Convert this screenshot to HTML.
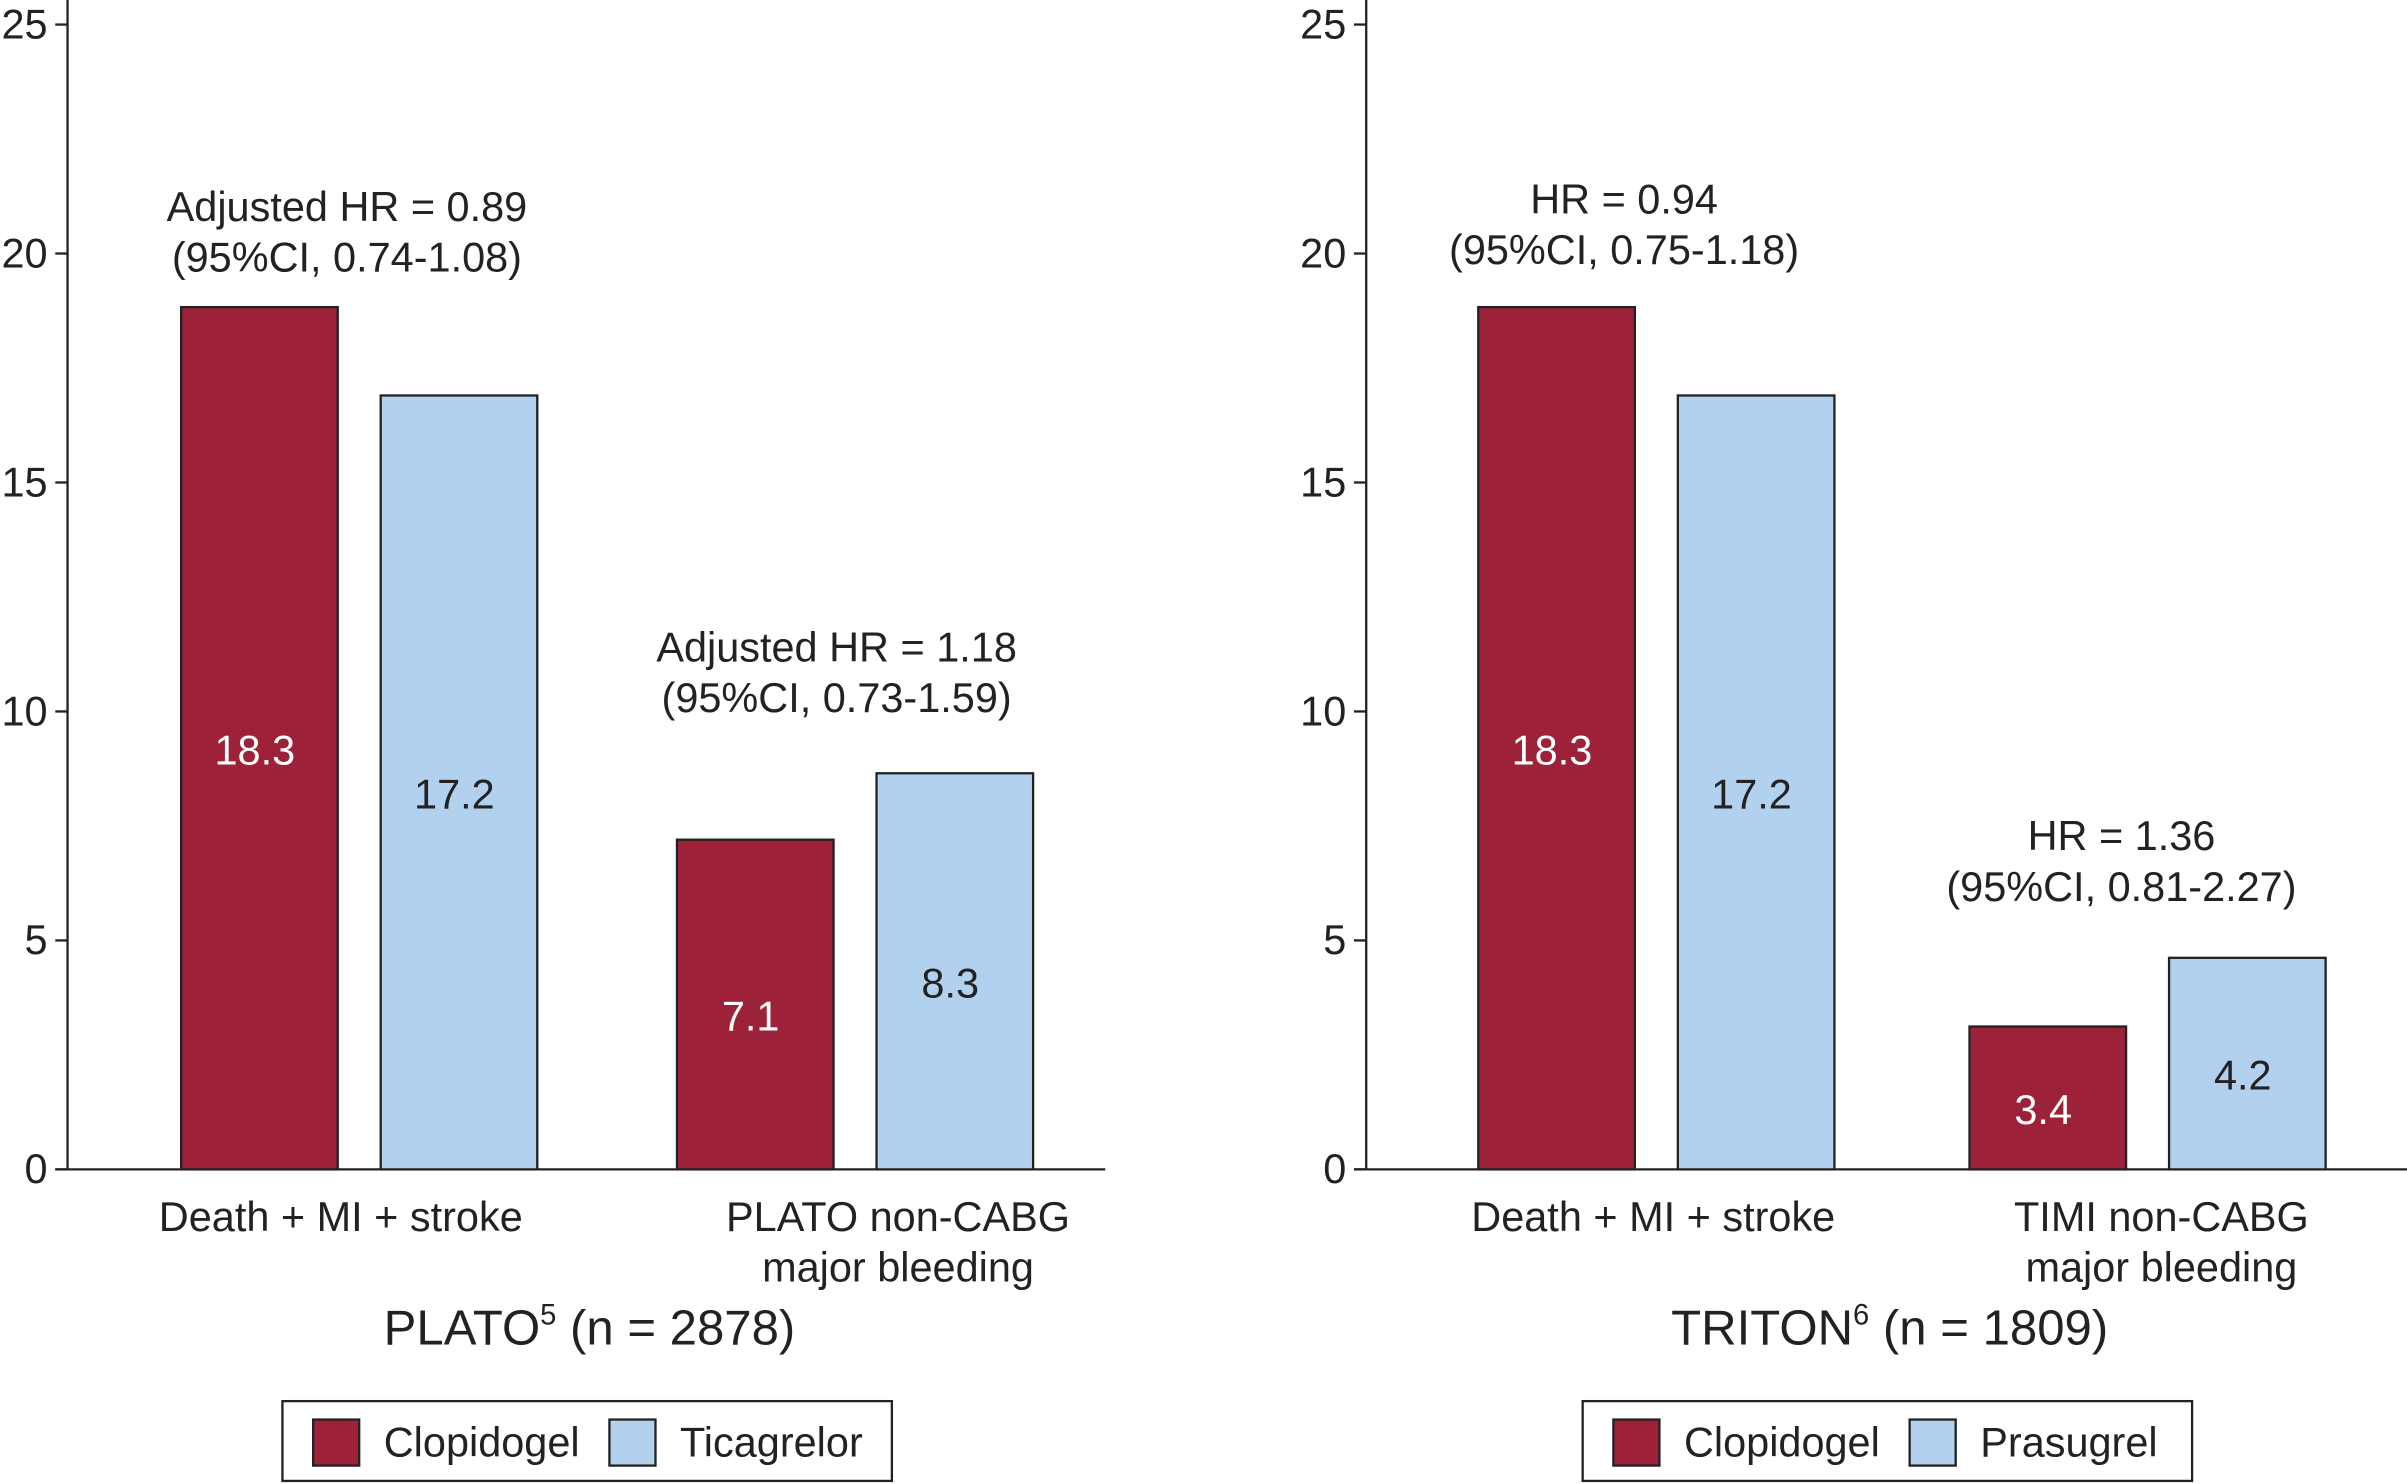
<!DOCTYPE html>
<html><head><meta charset="utf-8"><style>
html,body{margin:0;padding:0;background:#fff;}
svg{display:block;font-family:"Liberation Sans",sans-serif;}
</style></head><body>
<svg id="chart" width="2407" height="1484" viewBox="0 0 1568 967" preserveAspectRatio="none" xmlns="http://www.w3.org/2000/svg"></svg>
<script>
const yTicks = [0, 5, 10, 15, 20, 25];
const panelTitles = ["PLATO", "TRITON"];
const panelSups = ["5", "6"];
const panelNs = ["(n = 2878)", "(n = 1809)"];
const categoriesLeft = [["Death + MI + stroke"], ["PLATO non-CABG", "major bleeding"]];
const categoriesRight = [["Death + MI + stroke"], ["TIMI non-CABG", "major bleeding"]];
const seriesNamesLeft = ["Clopidogel", "Ticagrelor"];
const seriesNamesRight = ["Clopidogel", "Prasugrel"];
const clopLeft = [18.83, 7.2];
const ticaLeft = [16.9, 8.65];
const clopRight = [18.83, 3.12];
const prasRight = [16.9, 4.62];
const labelsClopLeft = ["18.3", "7.1"];
const labelsTicaLeft = ["17.2", "8.3"];
const labelsClopRight = ["18.3", "3.4"];
const labelsPrasRight = ["17.2", "4.2"];
const annotLeft = [["Adjusted HR = 0.89", "(95%CI, 0.74-1.08)"], ["Adjusted HR = 1.18", "(95%CI, 0.73-1.59)"]];
const annotRight = [["HR = 0.94", "(95%CI, 0.75-1.18)"], ["HR = 1.36", "(95%CI, 0.81-2.27)"]];

const NS = "http://www.w3.org/2000/svg";
const svg = document.getElementById('chart');
const RED = "#9c2139", BLUE = "#b1d1ef";
const FS = 27;
function el(tag, attrs, parent) {
  const e = document.createElementNS(NS, tag);
  for (const k in attrs) e.setAttribute(k, attrs[k]);
  (parent || svg).appendChild(e);
  return e;
}
const y0 = 762, y25 = 16;
function yScale(v) { return y0 - v * (y0 - y25) / 25; }

function panel(cfg) {
  const g = el('g', {});
  
  
  const ax = cfg.axisX;
  const yl = el('line', {x1: ax, y1: 0, x2: ax, y2: y0, stroke: '#222', 'stroke-width': 1.5}, g);
  
  
  const xl = el('line', {x1: ax - 8, y1: y0, x2: cfg.axisEnd, y2: y0, stroke: '#222', 'stroke-width': 1.5}, g);
  
  
  yTicks.forEach(t => {
    const y = yScale(t);
    el('line', {x1: ax - 8, y1: y, x2: ax, y2: y, stroke: '#222', 'stroke-width': 1.5}, g);
    const tx = el('text', {x: ax - 13, y: y + 9, 'text-anchor': 'end', 'font-size': FS, fill: '#222'}, g);
    tx.textContent = t;
    
    
  });
  const bw = 102;
  cfg.groupX.forEach((gx, i) => {
    const vals = [cfg.s1[i], cfg.s2[i]];
    const labs = [cfg.l1[i], cfg.l2[i]];
    [gx, gx + 130].forEach((bx, j) => {
      const top = yScale(vals[j]);
      const r = el('rect', {x: bx, y: top, width: bw, height: y0 - top, fill: j ? BLUE : RED, stroke: '#222', 'stroke-width': 1.5}, g);
      
      
      const t = el('text', {x: bx + bw / 2 - 3, y: (top + y0) / 2 + 17, 'text-anchor': 'middle', 'font-size': FS, fill: j ? '#222' : '#fff'}, g);
      t.textContent = labs[j];
      
      
    });
    cfg.cats[i].forEach((line, k) => {
      const t = el('text', {x: cfg.catX[i], y: 802 + k * 33, 'text-anchor': 'middle', 'font-size': FS, fill: '#222'}, g);
      t.textContent = line;
      
      
    });
    cfg.annot[i].forEach((line, k) => {
      const t = el('text', {x: cfg.annotX[i], y: cfg.annotY[i] + k * 33, 'text-anchor': 'middle', 'font-size': FS, fill: '#222'}, g);
      t.textContent = line;
      
      
    });
  });
  const tt = el('text', {x: cfg.titleX, y: 876, 'text-anchor': 'middle', 'font-size': 32, fill: '#222'}, g);
  
  
  const s1 = el('tspan', {}, tt); s1.textContent = cfg.title;
  const s2 = el('tspan', {'font-size': 19, dy: -13}, tt); s2.textContent = cfg.sup;
  const s3 = el('tspan', {dy: 13}, tt); s3.textContent = ' ' + cfg.n;
  const lx = cfg.legX;
  const lb = el('rect', {x: lx, y: 913, width: 397, height: 52, fill: '#fff', stroke: '#222', 'stroke-width': 1.5}, g);
  
  
  [[lx + 20, RED, cfg.names[0]], [lx + 213, BLUE, cfg.names[1]]].forEach(([sx, c, nm]) => {
    const sw = el('rect', {x: sx, y: 925, width: 30, height: 30, fill: c, stroke: '#222', 'stroke-width': 1.5}, g);
    
    
    const t = el('text', {x: sx + 46, y: 949, 'font-size': FS, fill: '#222'}, g);
    t.textContent = nm;
    
    
  });
}
panel({name: 'plato-panel', axisX: 44, axisEnd: 720, groupX: [118, 441], catX: [222, 585], s1: clopLeft, s2: ticaLeft, l1: labelsClopLeft, l2: labelsTicaLeft,
  cats: categoriesLeft, annot: annotLeft, annotX: [226, 545], annotY: [144, 431], title: panelTitles[0], sup: panelSups[0], n: panelNs[0],
  titleX: 384, legX: 184, names: seriesNamesLeft});
panel({name: 'triton-panel', axisX: 890, axisEnd: 1568, groupX: [963, 1283], catX: [1077, 1408], s1: clopRight, s2: prasRight, l1: labelsClopRight, l2: labelsPrasRight,
  cats: categoriesRight, annot: annotRight, annotX: [1058, 1382], annotY: [139, 554], title: panelTitles[1], sup: panelSups[1], n: panelNs[1],
  titleX: 1231, legX: 1031, names: seriesNamesRight});
</script>
</body></html>
